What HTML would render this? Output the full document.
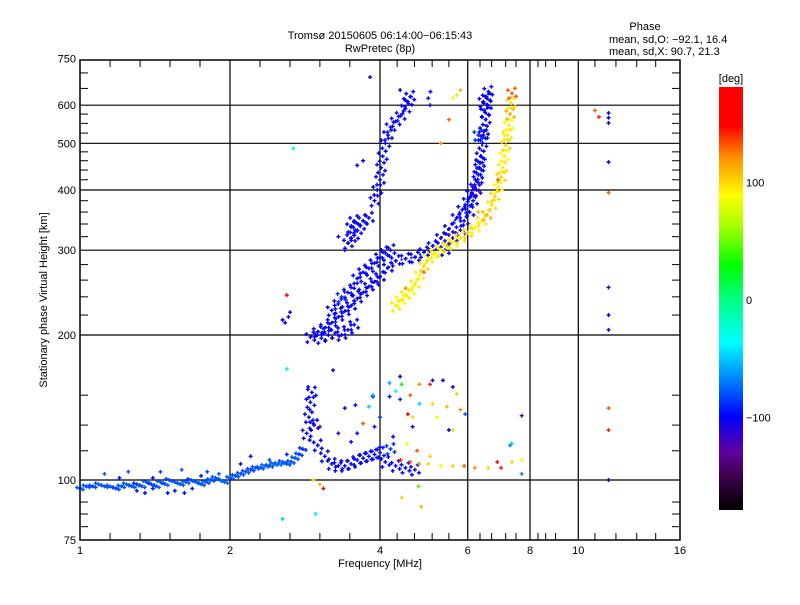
<!DOCTYPE html>
<html><head><meta charset="utf-8"><style>
body{margin:0;background:#fff;}
svg text{font-family:"Liberation Sans",sans-serif;font-size:11px;fill:#000;}
</style></head><body>
<svg id="chart" width="800" height="600" viewBox="0 0 800 600" xmlns="http://www.w3.org/2000/svg">
<defs>
<linearGradient id="cmap" x1="0" y1="1" x2="0" y2="0">
<stop offset="0" stop-color="#000000"/>
<stop offset="0.083" stop-color="#400050"/>
<stop offset="0.139" stop-color="#6000a0"/>
<stop offset="0.222" stop-color="#0000ff"/>
<stop offset="0.306" stop-color="#0080ff"/>
<stop offset="0.397" stop-color="#00ffff"/>
<stop offset="0.5" stop-color="#00ff80"/>
<stop offset="0.578" stop-color="#00ff00"/>
<stop offset="0.667" stop-color="#a0ff00"/>
<stop offset="0.744" stop-color="#ffff00"/>
<stop offset="0.833" stop-color="#ff9000"/>
<stop offset="0.908" stop-color="#ff0000"/>
<stop offset="1" stop-color="#ff0000"/>
</linearGradient>
</defs>
<text x="380" y="39" text-anchor="middle" font-size="13">Tromsø 20150605 06:14:00−06:15:43</text>
<text x="380" y="52" text-anchor="middle" font-size="13">RwPretec (8p)</text>
<text x="645" y="30" text-anchor="middle" font-size="10">Phase</text>
<text x="609" y="43" font-size="10">mean, sd,O: −92.1, 16.4</text>
<text x="609" y="55" font-size="10">mean, sd,X:  90.7, 21.3</text>
<g id="grid"></g>
<g id="marks"></g>
<rect x="80" y="60" width="600" height="480" fill="none" stroke="#000" stroke-width="1.5"/>
<g id="axes"></g>
<text x="380" y="567" text-anchor="middle">Frequency [MHz]</text>
<text transform="translate(47,300) rotate(-90)" text-anchor="middle">Stationary phase Virtual Height [km]</text>
<rect x="719" y="87" width="24" height="423" fill="url(#cmap)"/>
<text x="731" y="82" text-anchor="middle" font-size="13">[deg]</text>
<g id="cbticks"></g>
</svg>
<script>
const xTickLabels=[1,2,4,6,8,10,16];
const xGridVals=[2,4,6,8,10];
const yTickLabels=[75,100,200,300,400,500,600,750];
const yGridVals=[100,200,300,400,500,600];
const yMinorVals=[80,85,90,115,130,150,220,240,260,280,320,340,360,380,420,440,460,480,525,550,575,650,700];
const xMinorVals=[1.149,1.32,1.516,1.741,2.297,2.639,3.03,3.48,4.33,4.69,5.09,5.5,6.35,6.7,7.15,7.5,8.3,8.6,9.0,10.8,11.9,13.1,14.3];
const cbTickLabels=[100,0,-100];

// traces: [freq MHz, height km, phase deg]
const eTrace=[[1.0,96,-80],[1.03,97,-80],[1.06,97,-85],[1.09,98,-80],[1.12,97,-80],[1.15,97,-80],[1.18,96,-85],[1.21,97,-80],[1.24,98,-80],[1.27,97,-80],[1.3,98,-90],[1.33,97,-80],[1.36,99,-80],[1.39,98,-85],[1.42,97,-80],[1.45,99,-80],[1.48,98,-80],[1.51,100,-85],[1.55,99,-80],[1.59,98,-80],[1.63,99,-80],[1.67,100,-85],[1.71,99,-80],[1.75,98,-80],[1.79,99,-80],[1.83,100,-80],[1.87,101,-80],[1.91,100,-80],[1.95,99,-75],[2.0,101,-80],[2.05,102,-85],[2.1,103,-80],[2.15,104,-80],[2.2,105,-85],[2.25,106,-80],[2.3,106,-80],[2.35,107,-75],[2.4,107,-80],[2.45,108,-80],[2.5,108,-75],[2.55,109,-80],[2.6,108,-80],[2.65,109,-80],[2.7,111,-80],[2.75,113,-85],[2.8,116,-90]];
const eScatter=[[1.12,103,-80],[1.3,95,-95],[1.35,94,-100],[1.4,96,-95],[1.5,94,-100],[1.55,95,-100],[1.62,94,-100],[1.68,96,-95],[1.25,104,-80],[1.45,104,-85],[1.6,105,-80],[1.8,104,-85],[1.9,103,-80],[2.1,108,-100],[2.2,112,-100],[2.4,110,-80],[2.6,113,-95],[1.2,101,-100],[1.4,101,-100],[1.75,102,-100]];
const eCusp=[[2.85,125,-100],[2.88,135,-100],[2.9,145,-100],[2.92,152,-100],[2.95,130,-100],[3.0,118,-100],[3.1,112,-100],[3.2,108,-100],[3.3,107,-100],[3.4,107,-100],[3.5,108,-100],[3.6,110,-100],[3.7,111,-100],[3.8,112,-100],[3.9,113,-100],[4.0,114,-95],[4.2,116,-90],[4.1,109,-100],[4.3,107,-100],[4.5,106,-100],[4.7,105,-100]];
const esX=[[4.4,110,140],[4.6,109,130],[4.8,108,110],[5.0,108,100],[5.3,107,90],[5.6,107,100],[5.9,107,130],[6.2,106,120],[6.6,106,100],[7.0,106,140]];
const esCluster=[[2.87,156,-100],[2.89,140,-100],[2.94,131,-110],[2.89,121,-100],[3.03,129,-130],[3.22,169,-100],[3.4,141,-110],[3.57,143,-100],[3.6,125,-100],[3.87,149,-100],[4.0,135,-90],[3.9,129,-100],[4.0,117,-100],[4.18,149,-100],[4.39,164,-100],[4.39,147,-90],[4.25,123,-100],[4.65,129,-100],[5.1,161,-110],[5.35,161,-100],[5.6,156,-100],[5.5,127,-100],[5.93,137,-80],[4.55,137,150],[4.65,135,100],[4.8,158,120],[5.04,158,140],[5.1,144,100],[5.45,142,110],[5.6,127,100],[4.53,119,80],[4.75,115,130],[5.04,112,100],[3.7,131,130],[3.8,142,-50],[3.87,150,-60],[4.18,159,-60],[4.42,158,20],[4.8,144,-50],[5.7,151,60],[2.94,100,100],[3.03,98,110],[3.08,96,150],[2.6,170,-40],[2.55,83,-50],[4.42,92,100],[4.84,88,110],[4.78,97,40],[2.97,85,-40],[7.3,118,-70],[7.35,119,-50],[7.7,136,-130],[6.88,109,150],[7.36,109,100],[7.7,110,90],[7.7,103,-70],[4.3,153,-40],[4.6,150,130],[5.2,135,80],[5.8,140,120],[3.5,120,-100],[3.3,125,-120]];
const fO=[[2.9,198,-100],[3.0,203,-100],[3.1,207,-100],[3.2,212,-100],[3.3,218,-100],[3.4,224,-100],[3.5,230,-100],[3.6,238,-100],[3.7,245,-100],[3.8,252,-100],[3.9,258,-100],[4.0,264,-100],[4.15,276,-100],[4.3,285,-100],[4.5,288,-100],[4.7,290,-100],[4.9,297,-100],[5.1,306,-100],[5.3,318,-100],[5.5,332,-100],[5.7,350,-100],[5.85,364,-100],[6.0,378,-100],[6.1,392,-100],[6.2,405,-100],[6.28,420,-100],[6.33,445,-100],[6.37,470,-100],[6.42,500,-100],[6.47,530,-100],[6.52,560,-100],[6.56,600,-100],[6.6,640,-100]];
const fORidge=[[3.05,197,-100],[3.15,200,-100],[3.25,202,-100],[3.35,200,-110],[3.45,205,-100],[3.55,210,-100],[3.2,225,-100],[3.3,232,-100],[3.35,240,-90],[3.45,245,-100],[3.55,250,-100],[3.6,262,-100],[3.7,270,-100],[3.8,275,-100],[3.9,282,-100],[4.0,290,-100],[4.1,296,-100],[4.2,300,-100],[5.4,300,-100],[5.6,318,-110],[5.8,330,-100],[5.9,345,-100],[6.05,360,-100],[6.15,380,-100],[6.25,400,-120],[6.3,430,-100],[6.35,455,-100],[6.45,520,-100],[6.5,580,-100],[6.55,620,-100],[6.45,610,-100],[6.3,520,-90]];
const fUpper=[[3.9,380,-100],[3.95,400,-100],[4.0,420,-100],[4.02,445,-100],[4.05,470,-100],[4.1,500,-100],[4.15,520,-100],[4.2,540,-100],[4.3,555,-100],[4.4,570,-100],[4.5,590,-100],[4.55,610,-100],[4.6,625,-100],[3.45,310,-100],[3.5,318,-100],[3.55,322,-100],[3.6,330,-100],[3.65,337,-100],[3.7,345,-100],[3.8,350,-100],[3.5,335,-100],[3.55,345,-100]];
const fUpperScatter=[[3.6,450,-100],[3.7,460,-100],[3.82,686,-100],[4.39,645,-100],[4.49,615,-100],[5.04,600,-100],[5.0,620,-100],[5.05,640,-100],[2.55,215,-100],[2.64,223,-100],[2.6,242,160],[2.68,488,-40],[2.58,212,-100],[2.62,218,-110],[3.3,320,-100],[3.4,300,-100]];
const fX=[[4.3,230,95],[4.4,236,90],[4.5,242,95],[4.6,247,90],[4.7,255,95],[4.8,266,90],[4.9,278,100],[5.0,288,90],[5.15,296,95],[5.3,301,90],[5.45,306,100],[5.6,311,90],[5.8,318,95],[6.0,326,100],[6.2,334,90],[6.4,345,95],[6.55,355,110],[6.7,372,95],[6.8,388,100],[6.9,405,90],[7.0,425,100],[7.05,445,95],[7.1,470,90],[7.15,495,100],[7.2,520,95],[7.25,545,90],[7.3,575,110],[7.33,605,95],[7.36,635,130]];
const fXScatter=[[5.6,620,90],[5.7,630,70],[5.8,645,110],[4.5,250,120],[4.9,270,130],[5.2,290,80],[6.3,360,110],[6.9,420,130],[7.1,520,80],[5.5,560,130],[5.3,500,120]];
const farRight=[[11.5,578,-100],[11.5,565,-100],[11.5,551,-100],[10.8,585,130],[11.0,567,140],[11.5,457,-100],[11.5,395,130],[11.5,251,-100],[11.5,220,-100],[11.5,205,-100],[11.5,141,130],[11.5,127,140],[11.5,100,-100]];
const lineTraces=[eTrace,fO,fX];
const bandSets=[fO,fORidge,fX,fUpper,eCusp];
const thinSets=[eTrace];
const pointSets=[eScatter,esX,esCluster,fXScatter,farRight,fUpperScatter];

const X0=80,PX_OCT=150,Y100=480,PX_DEC=481.7;
function xs(f){return X0+Math.log2(f)*PX_OCT;}
function ys(h){return Y100-Math.log10(h/100)*PX_DEC;}
const stops=[[-180,[0,0,0]],[-150,[64,0,80]],[-130,[96,0,160]],[-100,[0,0,255]],[-70,[0,128,255]],[-37,[0,255,255]],[0,[0,255,128]],[28,[0,255,0]],[60,[160,255,0]],[88,[255,255,0]],[120,[255,144,0]],[147,[255,0,0]],[180,[255,0,0]]];
function col(p){for(let i=1;i<stops.length;i++){if(p<=stops[i][0]){const a=stops[i-1],b=stops[i],t=(p-a[0])/(b[0]-a[0]);const c=a[1].map((v,k)=>Math.round(v+(b[1][k]-v)*t));return `rgb(${c})`;}}return 'rgb(255,0,0)';}
const NS='http://www.w3.org/2000/svg';
function mk(tag,parent,attrs){const e=document.createElementNS(NS,tag);for(const k in attrs)e.setAttribute(k,attrs[k]);parent.appendChild(e);return e;}
const grid=document.getElementById('grid'),axes=document.getElementById('axes'),marks=document.getElementById('marks'),cbt=document.getElementById('cbticks');
xGridVals.forEach(v=>{const l=mk('line',grid,{x1:xs(v),x2:xs(v),y1:60,y2:540,stroke:'#000','stroke-width':1.2});

});
yGridVals.forEach(v=>{const l=mk('line',grid,{x1:80,x2:680,y1:ys(v),y2:ys(v),stroke:'#000','stroke-width':1.2});

});
xMinorVals.forEach(v=>{const x=xs(v);
const a=mk('line',axes,{x1:x,x2:x,y1:540,y2:533,stroke:'#000'});


const b=mk('line',axes,{x1:x,x2:x,y1:60,y2:67,stroke:'#000'});

});
yMinorVals.forEach(v=>{const y=ys(v);
const a=mk('line',axes,{x1:80,x2:88,y1:y,y2:y,stroke:'#000'});


const b=mk('line',axes,{x1:672,x2:680,y1:y,y2:y,stroke:'#000'});

});
xTickLabels.forEach(v=>{const t=mk('text',axes,{x:xs(v),y:554,'text-anchor':'middle'});t.textContent=v;

});
yTickLabels.forEach(v=>{const t=mk('text',axes,{x:76,y:ys(v)+4,'text-anchor':'end'});t.textContent=v;

});
cbTickLabels.forEach(v=>{const y=300-v*1.175;
const t=mk('text',cbt,{x:746,y:y+4});t.textContent=v===-100?'−100':v;

});
lineTraces.forEach(tr=>{for(let i=1;i<tr.length;i++){const a=tr[i-1],b=tr[i];
const s=mk('line',marks,{x1:xs(a[0]),y1:ys(a[1]),x2:xs(b[0]),y2:ys(b[1]),stroke:col((a[2]+b[2])/2),'stroke-width':2,'stroke-dasharray':'2 3'});

}});
function cross(x,y,c){const m=mk('path',marks,{d:`M${x-2},${y}H${x+2}M${x},${y-2}V${y+2}`,stroke:c,'stroke-width':1.4,fill:'none'});

}
const bandOffsets=[[0,0],[4,3],[-4,-3],[3,-5],[-3,5]];
const thinOffsets=[[0,0],[3,1],[-3,-1]];
bandSets.forEach(set=>set.forEach(p=>{const x=xs(p[0]),y=ys(p[1]),c=col(p[2]);bandOffsets.forEach(o=>cross(x+o[0],y+o[1],c));}));
thinSets.forEach(set=>set.forEach(p=>{const x=xs(p[0]),y=ys(p[1]),c=col(p[2]);thinOffsets.forEach(o=>cross(x+o[0],y+o[1],c));}));
pointSets.forEach(set=>set.forEach(p=>cross(xs(p[0]),ys(p[1]),col(p[2]))));
</script>
</body></html>
